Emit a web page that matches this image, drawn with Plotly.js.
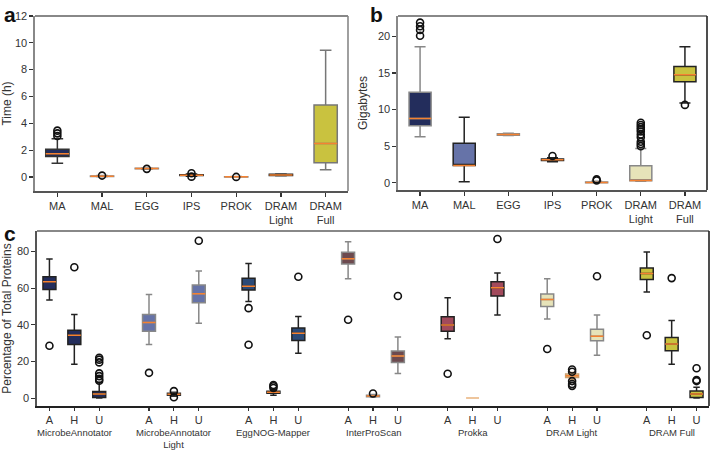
<!DOCTYPE html>
<html><head><meta charset="utf-8">
<script src="https://cdn.plot.ly/plotly-3.0.1.min.js"></script>
<style>html,body{margin:0;padding:0;background:#fff}#chart{width:712px;height:450px}</style>
</head><body><div id="chart"></div>
<script>
// ---------- Data ----------
const tools = ['MA','MAL','EGG','IPS','PROK','DRAM Light','DRAM Full'];
const toolTickText = ['MA','MAL','EGG','IPS','PROK','DRAM<br>Light','DRAM<br>Full'];

// Panel a: time (h)
const timeQ1  = [1.52, 0.03, 0.60, 0.10, 0.00, 0.10, 1.05];
const timeMed = [1.72, 0.05, 0.62, 0.13, 0.01, 0.15, 2.50];
const timeQ3  = [2.07, 0.07, 0.65, 0.16, 0.02, 0.20, 5.37];
const timeLo  = [1.02, 0.02, 0.58, 0.05, 0.00, 0.08, 0.53];
const timeHi  = [2.85, 0.10, 0.66, 0.22, 0.03, 0.22, 9.45];
const timeOut = [[3.05, 3.25, 3.45], [0.10], [0.60], [0.02, 0.27], [0.00], [], []];

// Panel b: memory (GB)
const memQ1  = [7.80, 2.35, 6.50, 3.05, 0.00, 0.27, 13.80];
const memMed = [8.77, 2.35, 6.60, 3.15, 0.02, 0.30, 14.75];
const memQ3  = [12.37, 5.39, 6.70, 3.25, 0.10, 2.33, 15.90];
const memLo  = [6.30, 0.14, 6.45, 2.85, 0.00, 0.20, 10.90];
const memHi  = [18.60, 8.95, 6.75, 3.40, 0.20, 4.66, 18.60];
const memOut = [[20.1, 20.9, 21.4, 21.9], [], [], [3.65], [0.30, 0.45],
                [5.0, 5.3, 5.6, 6.2, 6.6, 7.0, 7.3, 7.6, 7.9, 8.2], [10.64]];

// Panel c: percentage of total proteins (A, H, U per tool)
const groupNames = ['MicrobeAnnotator','MicrobeAnnotator<br>Light','EggNOG-Mapper','InterProScan','Prokka','DRAM Light','DRAM Full'];
const classes = ['A','H','U'];
const protQ1  = [[59.3, 29.3, 0.3], [36.5, 1.6, 52.1], [59.0, 2.6, 31.5], [73.2, 0.8, 19.4], [36.5, 0, 55.7], [50.0, 11.2, 31.3], [64.7, 25.9, 0.4]];
const protMed = [[63.5, 34.3, 2.2], [41.2, 2.1, 57.0], [61.1, 3.2, 35.4], [76.0, 1.1, 23.0], [39.9, 0, 60.2], [53.8, 12.2, 33.8], [68.0, 29.5, 2.3]];
const protQ3  = [[66.2, 37.0, 3.6], [45.7, 2.6, 61.7], [65.4, 3.8, 38.3], [79.6, 1.5, 25.7], [44.4, 0, 63.5], [56.8, 13.1, 37.6], [71.0, 33.1, 3.9]];
const protLo  = [[53.6, 18.5, 0.0], [29.3, 1.0, 40.8], [52.7, 1.5, 24.5], [65.1, 0.5, 13.5], [32.4, 0, 45.3], [43.2, 10.0, 23.4], [57.9, 18.5, 0.0]];
const protHi  = [[75.9, 45.7, 8.5], [56.6, 3.2, 69.4], [73.5, 4.5, 44.6], [85.4, 2.0, 33.3], [54.8, 0, 68.3], [65.1, 14.0, 45.3], [79.8, 42.3, 5.9]];
const protOut = [
  [[28.6], [71.4], [9.5, 10.5, 12.0, 13.5, 19.5, 21.0, 22.0]],
  [[13.8], [0.5, 3.8], [85.9]],
  [[49.1, 29.1], [5.5, 6.5, 7.2], [66.2]],
  [[42.8], [2.5], [55.7]],
  [[13.3], [], [86.8]],
  [[26.8], [15.6, 14.4, 9.3, 7.7, 6.7], [66.5]],
  [[34.3], [65.5], [9.3, 9.9, 16.3]]
];

// ---------- Styles ----------
const fills = ['#232d5c', '#6673a8', '#2b4a77', '#6d4a4f', '#a24a5c', '#e6e3b9', '#c9c23f'];
const lineA = ['#333', '#888', '#888', '#222', '#888', '#222', '#777'];
const lineB = ['#888', '#222', '#888', '#222', '#888', '#888', '#222'];
const lineC = [['#222','#222','#222'], ['#888','#333','#888'], ['#222','#222','#222'],
               ['#888','#888','#888'], ['#222','#e9b27c','#222'], ['#888','#c9a070','#888'], ['#222','#222','#222']];
const medColor = '#f58231';
const font = 'Liberation Sans, Arial, sans-serif';

const traces = [];
function addBox(x, q1, med, q3, lo, hi, fill, lc, xa, ya, w) {
  const flat = (q1 === q3 && lo === hi);
  traces.push({type:'box', x:[x], q1:[q1], median:[med], q3:[q3], lowerfence:[lo], upperfence:[hi],
    fillcolor: flat ? 'rgba(0,0,0,0)' : fill, line:{color:lc, width:1.5}, width:w, whiskerwidth:0.5,
    xaxis:xa, yaxis:ya, hoverinfo:'skip', showlegend:false});
  if (!flat) {
    traces.push({type:'box', x:[x], q1:[med], median:[med], q3:[med], lowerfence:[med], upperfence:[med],
      fillcolor:'rgba(0,0,0,0)', line:{color:medColor, width:1.5}, width:w, whiskerwidth:0,
      xaxis:xa, yaxis:ya, hoverinfo:'skip', showlegend:false});
  }
}
function addOut(xs, ys, xa, ya) {
  if (!ys.length) return;
  traces.push({type:'scatter', mode:'markers', x:xs, y:ys, xaxis:xa, yaxis:ya, hoverinfo:'skip', showlegend:false,
    marker:{symbol:'circle-open', size:7, color:'#111', line:{width:1.6, color:'#111'}}});
}

tools.forEach((t, i) => {
  addBox(t, timeQ1[i], timeMed[i], timeQ3[i], timeLo[i], timeHi[i], fills[i], lineA[i], 'x', 'y', 0.52);
  addOut(timeOut[i].map(() => t), timeOut[i], 'x', 'y');
  addBox(t, memQ1[i], memMed[i], memQ3[i], memLo[i], memHi[i], fills[i], lineB[i], 'x2', 'y2', 0.5);
  addOut(memOut[i].map(() => t), memOut[i], 'x2', 'y2');
});

const cTickVals = [], cTickText = [];
groupNames.forEach((g, gi) => {
  classes.forEach((c, ci) => {
    const pos = gi * 4 + ci;
    cTickVals.push(pos); cTickText.push(c);
    addBox(pos, protQ1[gi][ci], protMed[gi][ci], protQ3[gi][ci], protLo[gi][ci], protHi[gi][ci],
      fills[gi], lineC[gi][ci], 'x3', 'y3', 0.52);
    addOut(protOut[gi][ci].map(() => pos), protOut[gi][ci], 'x3', 'y3');
  });
});

const axBase = {showgrid:false, zeroline:false, ticks:'outside', ticklen:4, tickwidth:1.2, tickcolor:'#333',
  tickfont:{family:font, size:11, color:'#333'}, linewidth:1.6};

const annotations = [
  {text:'<b>a</b>', x:2/712, y:1-1/450, xref:'paper', yref:'paper', xanchor:'left', yanchor:'top', showarrow:false, font:{family:font, size:21, color:'#111'}},
  {text:'<b>b</b>', x:368/712, y:1-1/450, xref:'paper', yref:'paper', xanchor:'left', yanchor:'top', showarrow:false, font:{family:font, size:21, color:'#111'}},
  {text:'<b>c</b>', x:2/712, y:1-220/450, xref:'paper', yref:'paper', xanchor:'left', yanchor:'top', showarrow:false, font:{family:font, size:21, color:'#111'}}
];
groupNames.forEach((g, gi) => {
  annotations.push({text:g, x:gi*4+1, xref:'x3', y:1-425.5/450, yref:'paper', xanchor:'center', yanchor:'top',
    showarrow:false, borderpad:0, font:{family:font, size:9.5, color:'#333'}});
});

function frame(xr, yr, rightColor) {
  return [
    {type:'line', xref:xr+' domain', yref:yr+' domain', x0:0, x1:1, y0:1, y1:1, line:{color:'#888', width:2}},
    {type:'line', xref:xr+' domain', yref:yr+' domain', x0:1, x1:1, y0:0, y1:1, line:{color:rightColor, width:1.6}}
  ];
}

const layout = {
  width:712, height:450, margin:{l:0, r:0, t:0, b:0}, paper_bgcolor:'#fff', plot_bgcolor:'#fff',
  boxmode:'overlay', showlegend:false, font:{family:font, color:'#333'},
  xaxis: Object.assign({}, axBase, {domain:[35/712, 348/712], anchor:'y', linecolor:'#555', type:'category',
    tickvals:tools, ticktext:toolTickText, range:[-0.5, 6.5]}),
  yaxis: Object.assign({}, axBase, {domain:[1-191/450, 1-16/450], anchor:'x', linecolor:'#888', range:[-1.05, 12], dtick:2,
    title:{text:'Time (h)', font:{family:font, size:12, color:'#333'}, standoff:6}}),
  xaxis2: Object.assign({}, axBase, {domain:[398/712, 707/712], anchor:'y2', linecolor:'#555', type:'category',
    tickvals:tools, ticktext:toolTickText, range:[-0.5, 6.5]}),
  yaxis2: Object.assign({}, axBase, {domain:[1-190/450, 1-16/450], anchor:'x2', linecolor:'#888', range:[-1.0, 22.8], dtick:5,
    title:{text:'Gigabytes', font:{family:font, size:12, color:'#333'}, standoff:8}}),
  xaxis3: Object.assign({}, axBase, {domain:[37/712, 709/712], anchor:'y3', linecolor:'#222', tickvals:cTickVals, ticktext:cTickText,
    range:[-0.5, 26.5], ticklen:3, tickfont:{family:font, size:11, color:'#333'}}),
  yaxis3: Object.assign({}, axBase, {domain:[1-406/450, 1-231/450], anchor:'x3', linecolor:'#555', range:[-4.3, 91.2], dtick:20,
    title:{text:'Percentage of Total Proteins', font:{family:font, size:12, color:'#333'}, standoff:6}}),
  shapes: [].concat(frame('x','y','#888'), frame('x2','y2','#222'), frame('x3','y3','#222')),
  annotations: annotations
};

Plotly.newPlot('chart', traces, layout, {staticPlot:true, displayModeBar:false});
</script></body></html>
